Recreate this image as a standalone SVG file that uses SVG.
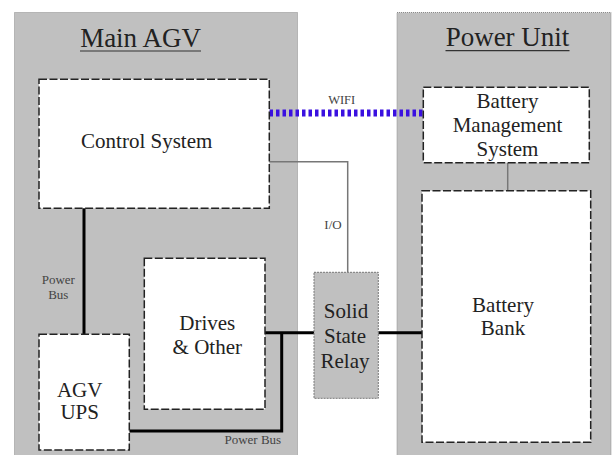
<svg xmlns="http://www.w3.org/2000/svg" width="613" height="455" viewBox="0 0 613 455">
<style>
.cont{fill:#c0c0c0;stroke:#8a8a8a;stroke-width:1;stroke-dasharray:1 1}
.box{fill:#fff;stroke:#222;stroke-width:1.5;stroke-dasharray:8 2.5}
.ssr{fill:#c0c0c0;stroke:#777;stroke-width:1;stroke-dasharray:2 1}
text{font-family:'Liberation Serif','Tinos','Times New Roman','DejaVu Serif',serif;fill:#222;text-anchor:middle}
.t{font-size:21px}
.h{font-size:27px}
.s{font-size:13px;fill:#444}
.bus{stroke:#000;stroke-width:3;fill:none}
.sig{stroke:#777;stroke-width:1.5;fill:none}
.wifi{stroke:#3a10e0;stroke-width:7;stroke-dasharray:3.5 3;fill:none}
.ul{stroke:#333;stroke-width:1.2}
</style>
<rect width="613" height="455" fill="#fff"/>
<g id="main-agv">
<rect class="cont" x="14.5" y="12.5" width="283" height="450"/>
<text class="h" x="140.5" y="46.5">Main AGV</text>
<line class="ul" x1="80" y1="51" x2="201" y2="51"/>
</g>
<g id="power-unit">
<rect class="cont" x="397" y="12.5" width="214" height="450"/>
<text class="h" x="507.5" y="46">Power Unit</text>
<line class="ul" x1="445.5" y1="50.7" x2="569.5" y2="50.7"/>
</g>
<g id="connectors">
<path class="sig" d="M269 161.7H347.7V272"/>
<path class="sig" d="M507.7 162.7V190.7"/>
<path class="bus" d="M84 208V334"/>
<path class="bus" d="M265 332.7H314"/>
<path class="bus" d="M281.7 332.7V431H129.3"/>
<path class="bus" d="M378.3 332.7H422"/>
<path class="wifi" d="M269.5 113H423"/>
<text class="s" x="341.7" y="103.5" style="font-size:12.5px">WIFI</text>
<text class="s" x="333" y="229">I/O</text>
<text class="s" x="58.3" y="284.3">Power</text>
<text class="s" x="58.3" y="299">Bus</text>
<text class="s" x="252.8" y="444.3">Power Bus</text>
</g>
<g id="control-system">
<rect class="box" x="39" y="79.3" width="230.3" height="129"/>
<text class="t" x="146.7" y="147.7">Control System</text>
</g>
<g id="bms">
<rect class="box" x="423.3" y="87.3" width="166" height="75.4"/>
<text class="t" x="507.5" y="108">Battery</text>
<text class="t" x="507.5" y="132">Management</text>
<text class="t" x="507.5" y="156">System</text>
</g>
<g id="battery-bank">
<rect class="box" x="422" y="190.7" width="168.7" height="251.6"/>
<text class="t" x="503" y="311.7">Battery</text>
<text class="t" x="503" y="335">Bank</text>
</g>
<g id="ssr">
<rect class="ssr" x="314" y="272.3" width="64.3" height="126"/>
<text class="t" x="346" y="318.3">Solid</text>
<text class="t" x="345" y="343.3">State</text>
<text class="t" x="345" y="367.7">Relay</text>
</g>
<g id="drives">
<rect class="box" x="144.3" y="258.3" width="120.7" height="151"/>
<text class="t" x="207.3" y="330">Drives</text>
<text class="t" x="207.3" y="354.3">&amp; Other</text>
</g>
<g id="agv-ups">
<rect class="box" x="39" y="334.3" width="90.3" height="115.7"/>
<text class="t" x="79.7" y="396.7">AGV</text>
<text class="t" x="79.7" y="419">UPS</text>
</g>
</svg>
